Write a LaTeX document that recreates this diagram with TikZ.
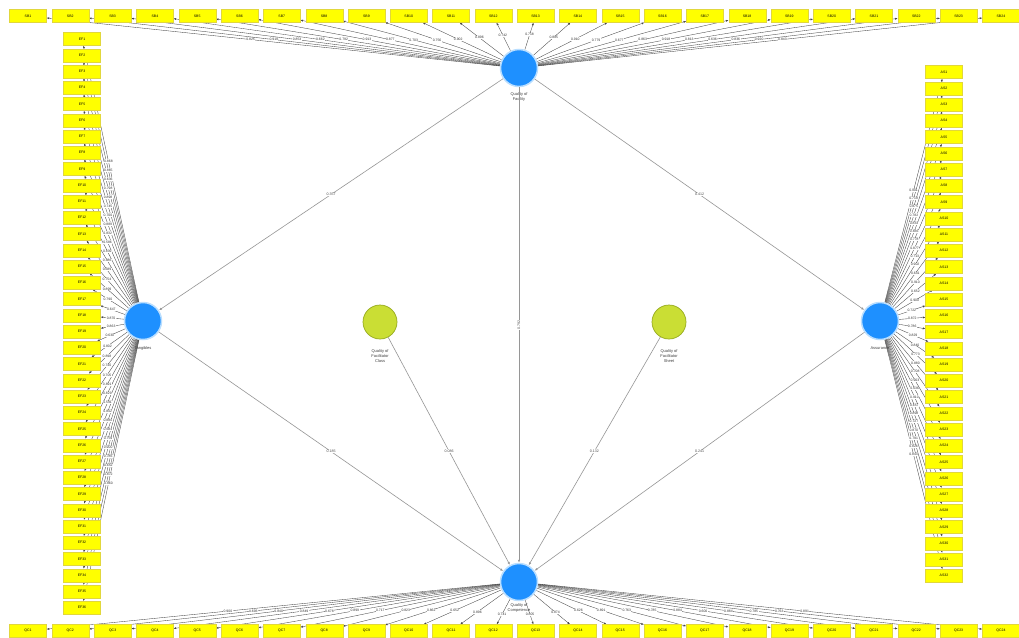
\documentclass[tikz,border=0pt]{standalone}
\usepackage{fontspec}
\setmainfont{Liberation Sans}
\usetikzlibrary{arrows.meta}
\pgfdeclarelayer{back}
\pgfdeclarelayer{bg}
\pgfsetlayers{back,bg,main}
\definecolor{lvblue}{RGB}{30,144,255}
\definecolor{lvhalo}{RGB}{185,222,255}
\definecolor{gvfill}{RGB}{202,222,52}
\definecolor{gvdraw}{RGB}{150,170,30}
\definecolor{indy}{RGB}{255,255,0}
\definecolor{indb}{RGB}{225,215,60}
\definecolor{pathc}{RGB}{150,150,150}
\definecolor{loadc}{RGB}{70,70,70}
\pgfkeys{/pgf/number format/.cd, fixed, precision=3, fixed zerofill, assume math mode=true}
\begin{document}
\begin{tikzpicture}[x=1pt,y=-1pt,
  ind/.style={fill=indy, draw=indb, line width=0.2pt, minimum width=37pt, minimum height=13pt, inner sep=0pt, font=\fontsize{3.5}{4}\selectfont},
  lv/.style={circle, fill=lvblue, draw=lvhalo, line width=1.5pt, minimum size=37pt, inner sep=0pt},
  gv/.style={circle, fill=gvfill, draw=gvdraw, line width=0.7pt, minimum size=34pt, inner sep=0pt},
  lab/.style={font=\fontsize{4}{4.6}\selectfont, align=center, text=black!75},
  load/.style={draw=loadc, line width=0.35pt, -{Latex[length=2.6pt,width=2pt]}},
  pth/.style={draw=pathc, line width=0.6pt, -{Latex[length=3pt,width=2.4pt]}},
  lval/.style={fill=white, inner sep=0.4pt, font=\fontsize{3.4}{3.8}\selectfont, text=black!80},
  pval/.style={fill=white, inner sep=0.6pt, font=\fontsize{3.6}{4}\selectfont, text=black!70}]
\begin{pgfonlayer}{back}
\fill[white] (0,0) rectangle (1019,637);
\end{pgfonlayer}
\useasboundingbox (0,0) rectangle (1019,637);

% constructs
\node[lv] (T) at (519,68) {};
\node[lv] (L) at (143,321) {};
\node[lv] (R) at (880,321) {};
\node[lv] (B) at (519,582) {};
\node[gv] (G1) at (380,322) {};
\node[gv] (G2) at (669,322) {};

\node[lab] (TL) at (519,97) {Quality of\\Facility};
\node[lab] (LL) at (143,348) {Tangibles};
\node[lab] (RL) at (880,348) {Assurance};
\node[lab] (BL) at (519,608) {Quality of\\Competence};
\node[lab] (G1L) at (380,356) {Quality of\\Facilitator\\Class};
\node[lab] (G2L) at (669,356) {Quality of\\Facilitator\\Sheet};

% indicators
\foreach \i in {1,...,24} {
  \pgfmathsetmacro\xx{28+42.3*(\i-1)}
  \node[ind] (t\i) at (\xx,16) {SB\i};
  \node[ind] (b\i) at (\xx,631) {QC\i};
}
\foreach \i in {1,...,36} {
  \pgfmathsetmacro\yy{39+16.25*(\i-1)}
  \node[ind] (l\i) at (82,\yy) {EF\i};
}
\foreach \i in {1,...,32} {
  \pgfmathsetmacro\yy{72+16.25*(\i-1)}
  \node[ind] (r\i) at (944,\yy) {AS\i};
}

\begin{pgfonlayer}{bg}
% loading lines
\foreach \i in {1,...,24} {
  \draw[load] (T) -- (t\i);
  \draw[load] (B) -- (b\i);
}
\foreach \i in {1,...,36} { \draw[load] (L) -- (l\i); }
\foreach \i in {1,...,32} { \draw[load] (R) -- (r\i); }
% loading values
\foreach \i in {1,...,24} {
  \pgfmathsetmacro\va{0.62+0.3*abs(sin(\i*137))}
  \pgfmathsetmacro\vb{0.60+0.3*abs(sin(\i*71+20))}
  \path (T) -- (t\i) node[lval,pos=0.55] {\pgfmathprintnumber{\va}};
  \path (B) -- (b\i) node[lval,pos=0.6] {\pgfmathprintnumber{\vb}};
}
\foreach \i in {1,...,36} {
  \pgfmathsetmacro\vc{0.58+0.32*abs(sin(\i*53+11))}
  \path (L) -- (l\i) node[lval,pos=0.55] {\pgfmathprintnumber{\vc}};
}
\foreach \i in {1,...,32} {
  \pgfmathsetmacro\vd{0.61+0.3*abs(sin(\i*97+7))}
  \path (R) -- (r\i) node[lval,pos=0.5] {\pgfmathprintnumber{\vd}};
}
\end{pgfonlayer}

% structural paths
\draw[pth] (T) -- (L) node[pval,midway] {0.357};
\draw[pth] (T) -- (R) node[pval,midway] {0.412};
\draw[pth] (T) -- (B) node[pval,midway,rotate=90] {0.792};
\draw[pth] (L) -- (B) node[pval,midway] {0.185};
\draw[pth] (G1) -- (B) node[pval,midway] {0.086};
\draw[pth] (G2) -- (B) node[pval,midway] {0.132};
\draw[pth] (R) -- (B) node[pval,midway] {0.241};
\end{tikzpicture}
\end{document}
